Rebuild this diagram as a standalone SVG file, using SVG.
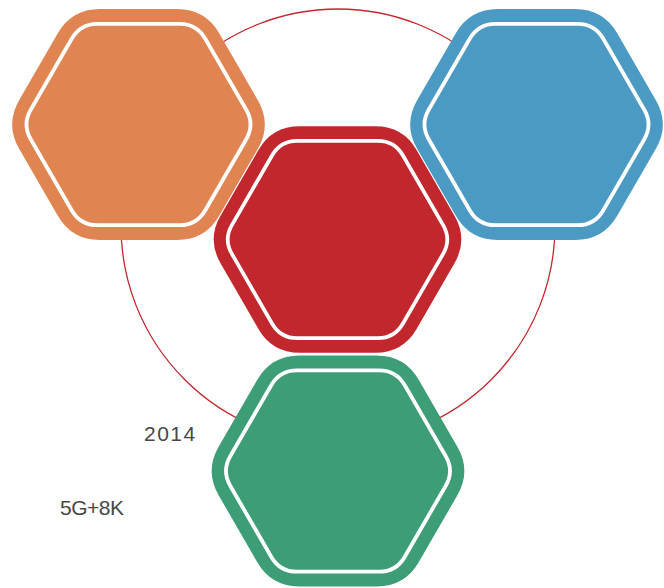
<svg xmlns="http://www.w3.org/2000/svg" xmlns:xlink="http://www.w3.org/1999/xlink" width="664" height="588" viewBox="0 0 664 588">
<style>
.ring{fill:none;stroke:#c1272d;stroke-width:1.3}
.inner{fill:none;stroke:#ffffff;stroke-width:3.8}
.lbl{font-family:"Liberation Sans",Arial,sans-serif;font-size:21px;fill:#484848}
</style>
<defs>
<path id="hexOuter" d="M-38.69,-115.5 L38.69,-115.5 Q66.69,-115.5 80.69,-91.25 L119.37,-24.25 Q133.37,0 119.37,24.25 L80.69,91.25 Q66.69,115.5 38.69,115.5 L-38.69,115.5 Q-66.69,115.5 -80.69,91.25 L-119.37,24.25 Q-133.37,0 -119.37,-24.25 L-80.69,-91.25 Q-66.69,-115.5 -38.69,-115.5 Z"/>
<path id="hexInner" d="M-41.14,-100.7 L41.14,-100.7 Q58.14,-100.7 66.64,-85.98 L107.78,-14.72 Q116.28,0 107.78,14.72 L66.64,85.98 Q58.14,100.7 41.14,100.7 L-41.14,100.7 Q-58.14,100.7 -66.64,85.98 L-107.78,14.72 Q-116.28,0 -107.78,-14.72 L-66.64,-85.98 Q-58.14,-100.7 -41.14,-100.7 Z"/>
</defs>
<g id="connectors">
<circle class="ring" cx="338" cy="226" r="217"/>
</g>
<g id="node-orange" transform="translate(138.5,124.5)">
<use xlink:href="#hexOuter" href="#hexOuter" fill="#e08552"/>
<use xlink:href="#hexInner" href="#hexInner" class="inner"/>
</g>
<g id="node-blue" transform="translate(536.5,124.5)">
<use xlink:href="#hexOuter" href="#hexOuter" fill="#4b9ac4"/>
<use xlink:href="#hexInner" href="#hexInner" class="inner"/>
</g>
<g id="node-green" transform="translate(338,471)">
<use xlink:href="#hexOuter" href="#hexOuter" fill="#3d9d77"/>
<use xlink:href="#hexInner" href="#hexInner" class="inner"/>
</g>
<g id="node-red" transform="translate(337.5,239.5) scale(0.98)">
<use xlink:href="#hexOuter" href="#hexOuter" fill="#c1272d"/>
<use xlink:href="#hexInner" href="#hexInner" class="inner"/>
</g>
<g id="labels">
<text class="lbl" x="144" y="441" letter-spacing="1.5">2014</text>
<text class="lbl" x="60" y="515" letter-spacing="-0.5">5G+8K</text>
</g>
</svg>
